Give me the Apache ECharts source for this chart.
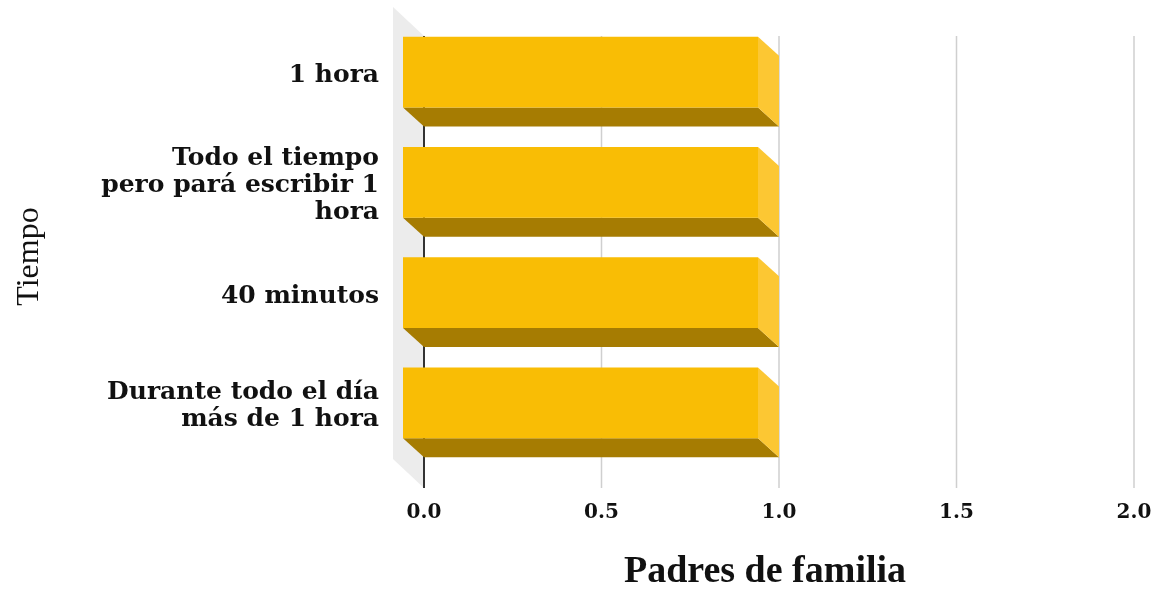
<!DOCTYPE html>
<html>
<head>
<meta charset="utf-8">
<script src="https://cdn.jsdelivr.net/npm/echarts@6/dist/echarts.min.js"></script>
<style>
html,body{margin:0;padding:0;background:#fff;}
#chart{width:1166px;height:593px;}
</style>
</head>
<body>
<div id="chart"></div>
<script>
const categories = [
  "1 hora",
  "Todo el tiempo\npero pará escribir 1\nhora",
  "40 minutos",
  "Durante todo el día\nmás de 1 hora"
];
const values = [1, 1, 1, 1];
const xTicks = [0, 0.5, 1, 1.5, 2];
const xAxisTitle = "Padres de familia";
const yAxisTitle = "Tiempo";

const DEPTH_X = -21, DEPTH_Y = -19;
const WALL_X = -31, WALL_Y = -29;
const EXT = 11;

const chart = echarts.init(document.getElementById('chart'), null, {renderer: 'canvas'});

const option = {
  animation: false,
  backgroundColor: '#ffffff',
  grid: {left: 424, right: 32, top: 36, bottom: 116, containLabel: false, outerBoundsMode: 'none'},
  xAxis: {
    type: 'value', min: 0, max: 2, interval: 0.5,
    axisLine: {show: false}, axisTick: {show: false}, splitLine: {show: false},
    axisLabel: {
      margin: 26, fontFamily: 'DejaVu Serif', fontWeight: 'bold', fontSize: 20, color: '#111',
      formatter: v => v.toFixed(1)
    },
    name: xAxisTitle, nameLocation: 'middle', nameGap: 76,
    nameTextStyle: {fontFamily: 'Liberation Serif', fontWeight: 'bold', fontSize: 38, color: '#111', padding: [0, 28, 0, 0]}
  },
  yAxis: {
    type: 'category', inverse: true, data: categories,
    axisLine: {show: false}, axisTick: {show: false}, splitLine: {show: false},
    axisLabel: {
      margin: 45, fontFamily: 'DejaVu Serif', fontWeight: 'bold', fontSize: 25, lineHeight: 27, color: '#111', align: 'right',
      formatter: v => v.split('\n').map(s => '{t|' + s + '}').join('\n') + '\n{s| }',
      rich: {
        t: {fontFamily: 'DejaVu Serif', fontWeight: 'bold', fontSize: 25, lineHeight: 27, color: '#111', align: 'right'},
        s: {fontSize: 1, lineHeight: 31, height: 31, align: 'right'}
      }
    },
    name: yAxisTitle, nameLocation: 'middle', nameGap: 378, nameRotate: 90,
    nameTextStyle: {fontFamily: 'Liberation Serif', fontSize: 32, color: '#111'}
  },
  series: [
    {
      type: 'custom', name: 'frame', silent: true, z: 1,
      data: xTicks.map(t => [t, 0]),
      renderItem: function (params, api) {
        const cs = params.coordSys;
        const x = api.coord([api.value(0), 0])[0];
        const top = cs.y, bottom = cs.y + cs.height + EXT;
        const children = [];
        if (params.dataIndex === 0) {
          children.push({
            type: 'polygon',
            shape: {points: [[x, top], [x, bottom], [x + WALL_X, bottom + WALL_Y], [x + WALL_X, top + WALL_Y]]},
            style: {fill: '#ececec'}
          });
        }
        children.push({
          type: 'line',
          shape: {x1: x, y1: top, x2: x, y2: bottom},
          style: {stroke: params.dataIndex === 0 ? '#333333' : '#cfcfcf', lineWidth: params.dataIndex === 0 ? 2 : 1.5}
        });
        return {type: 'group', children: children};
      }
    },
    {
      type: 'custom', name: 'Padres de familia', z: 2,
      data: values.map((v, i) => [v, i]),
      encode: {x: 0, y: 1},
      renderItem: function (params, api) {
        const v = api.value(0), c = api.value(1);
        const p0 = api.coord([0, c]);
        const p1 = api.coord([v, c]);
        const bw = api.size([0, 1])[1] * 0.64;
        const yT = p0[1] - bw / 2, yB = p0[1] + bw / 2;
        const xL = p0[0], xR = p1[0];
        const dx = DEPTH_X, dy = DEPTH_Y;
        return {
          type: 'group',
          children: [
            {type: 'polygon', shape: {points: [[xL + dx, yB + dy], [xR + dx, yB + dy], [xR, yB], [xL, yB]]}, style: {fill: '#a67c02'}},
            {type: 'polygon', shape: {points: [[xR + dx, yT + dy], [xR, yT], [xR, yB], [xR + dx, yB + dy]]}, style: {fill: '#fcc733'}},
            {type: 'rect', shape: {x: xL + dx, y: yT + dy, width: xR - xL, height: bw}, style: {fill: '#f9bd05'}}
          ]
        };
      }
    }
  ]
};
chart.setOption(option);
</script>
</body>
</html>
